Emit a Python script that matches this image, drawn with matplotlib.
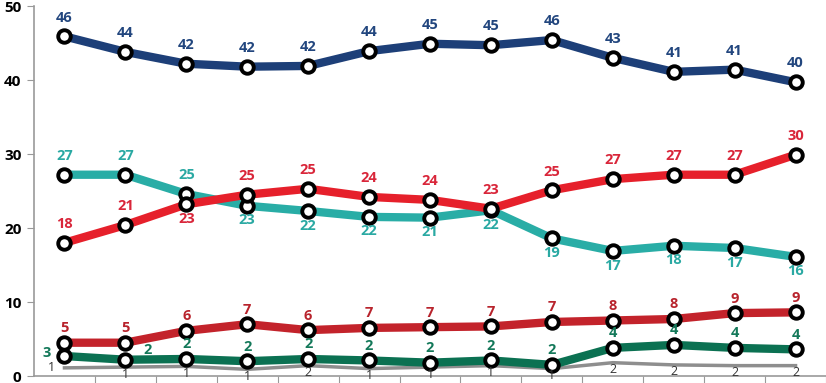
import matplotlib
matplotlib.use("Agg")
import matplotlib.pyplot as plt

plt.rcParams['font.family'] = ['Open Sans', 'DejaVu Sans']

# survey waves (no x labels shown in the original)
waves = list(range(13))

blue = [45.9, 43.8, 42.2, 41.8, 41.9, 43.9, 44.9, 44.7, 45.4, 43.0, 41.1, 41.4, 39.7]
blue_lbl = [46, 44, 42, 42, 42, 44, 45, 45, 46, 43, 41, 41, 40]

red = [18.0, 20.4, 23.2, 24.5, 25.3, 24.2, 23.8, 22.6, 25.1, 26.6, 27.2, 27.2, 29.9]
red_lbl = [18, 21, 23, 25, 25, 24, 24, 23, 25, 27, 27, 27, 30]

teal = [27.2, 27.2, 24.6, 23.0, 22.3, 21.5, 21.4, 22.4, 18.6, 16.9, 17.6, 17.3, 16.1]
teal_lbl = [27, 27, 25, 23, 22, 22, 21, 22, 19, 17, 18, 17, 16]

darkred = [4.5, 4.5, 6.1, 7.0, 6.2, 6.5, 6.6, 6.7, 7.3, 7.5, 7.7, 8.5, 8.6]
darkred_lbl = [5, 5, 6, 7, 6, 7, 7, 7, 7, 8, 8, 9, 9]

green = [2.7, 2.2, 2.3, 2.0, 2.3, 2.1, 1.8, 2.1, 1.5, 3.8, 4.2, 3.8, 3.6]
green_lbl = [3, 2, 2, 2, 2, 2, 2, 2, 2, 4, 4, 4, 4]

gray = [1.1, 1.2, 1.3, 0.9, 1.4, 1.0, 1.2, 1.4, 1.0, 1.8, 1.5, 1.4, 1.4]
gray_lbl = [1, 1, 1, 1, 2, 1, 1, 1, 1, 2, 2, 2, 2]

fig = plt.figure(figsize=(8.26, 3.83), dpi=100)
ax = fig.add_axes([34 / 826, 7 / 383, 1 - 34 / 826, 370 / 383])

mk = dict(marker='o', markersize=9, markerfacecolor='white',
          markeredgecolor='black', markeredgewidth=2.8, solid_capstyle='round')

ax.plot(waves, gray, color='#8e8e8e', lw=2.5, zorder=2)
ax.plot(waves, green, color='#0b7152', lw=6, zorder=3, **mk)
ax.plot(waves, darkred, color='#c3232b', lw=6, zorder=3, **mk)
ax.plot(waves, teal, color='#29ada6', lw=6, zorder=3, **mk)
ax.plot(waves, red, color='#e6202b', lw=6, zorder=4, **mk)
ax.plot(waves, blue, color='#1d3f78', lw=6, zorder=4, **mk)


def label(xs, ys, texts, color, offsets, bold=True, size=10.5):
    for x, y, t, off in zip(xs, ys, texts, offsets):
        ax.annotate(str(t), (x, y), xytext=off, textcoords='offset points',
                    ha='center', va='center', color=color, fontsize=size,
                    fontweight='bold' if bold else 'normal', zorder=6)


up = (0, 13.5)
down = (0, -10.5)
small_up = (0, 10.5)
label(waves, blue, blue_lbl, '#22467e', [up] * 13)
label(waves, red, red_lbl, '#d9263a', [up, up, down] + [up] * 10)
label(waves, teal, teal_lbl, '#2aa9a3', [up, up, up] + [down] * 10)
label(waves, darkred, darkred_lbl, '#b8232c', [small_up] * 13)
label(waves, green, green_lbl, '#14795a', [(-13, 2), (16, 7)] + [small_up] * 11)
label(waves, gray, gray_lbl, '#333333', [(-9, 0)] + [(0, -5)] * 12,
      bold=False, size=9)

ax.set_xlim(-0.5, 12.5)
ax.set_ylim(0, 50)
ax.set_yticks([0, 10, 20, 30, 40, 50])
ax.set_xticks([i + 0.5 for i in range(13)])
ax.set_xticklabels([])
ax.tick_params(axis='y', length=5, color='#999999', labelsize=11, pad=4)
ax.tick_params(axis='x', length=6, color='#999999')
for t in ax.get_yticklabels():
    t.set_fontweight('bold')

for s in ['top', 'right']:
    ax.spines[s].set_visible(False)
for s in ['left', 'bottom']:
    ax.spines[s].set_color('#999999')
    ax.spines[s].set_linewidth(1.2)

fig.savefig('out.png', dpi=100)
